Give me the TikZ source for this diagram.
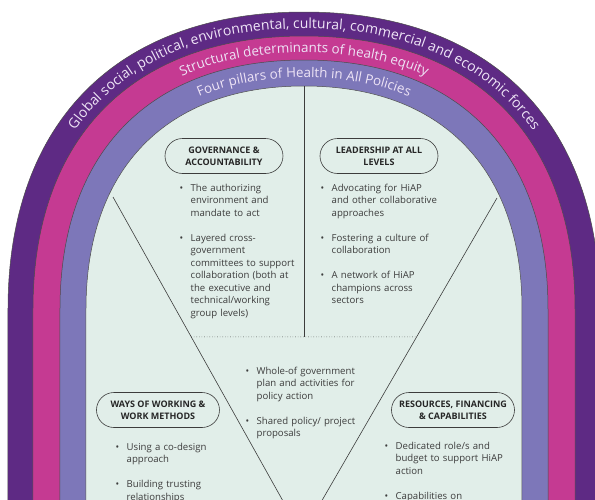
\documentclass[tikz,border=0pt]{standalone}
\usepackage{fontspec}
\setmainfont{Open Sans}
\usetikzlibrary{shapes.misc,decorations.text,calc}

\definecolor{forces}{RGB}{94,42,132}
\definecolor{structural}{RGB}{197,58,146}
\definecolor{pillars}{RGB}{125,119,185}
\definecolor{mint}{RGB}{225,238,233}
\definecolor{ink}{RGB}{60,60,60}
\definecolor{arcink}{RGB}{238,228,246}

\newcommand{\arcfont}{\fontsize{13.4}{16}\selectfont}
\newcommand{\outerfont}{\fontsize{14}{16}\selectfont}
\newcommand{\headfont}{\fontsize{9}{12}\selectfont\bfseries}
% bullet hangs in the left margin, all lines share the same indent
\newcommand{\itm}[1]{\leftskip=11pt\noindent\llap{\makebox[11pt][l]{\textbullet}}#1\par}
\newcommand{\gap}{\vspace{12.5pt}}

\tikzset{
  band/.style={draw=black!70, line width=0.5pt},
  toparc/.style 2 args={insert path={(-#1,0) .. controls (-#1,0.63*#2) and (-0.63*#1,#2) .. (0,#2) .. controls (0.63*#1,#2) and (#1,0.63*#2) .. (#1,0)}},
  arctext/.style={decorate, decoration={text along path, text align=center, text color=arcink, text={#1}}},
  pill/.style={rounded rectangle, draw=ink, line width=0.6pt, minimum width=122pt, minimum height=35pt, align=center, font=\headfont, text=black!85, inner sep=2pt},
  bullets/.style={anchor=base west, inner sep=0pt, text width=130pt, align=left, font=\fontsize{9.6}{12.5}\selectfont, text=ink},
  divider/.style={draw=ink, line width=0.6pt}
}

\begin{document}
\begin{tikzpicture}[x=1pt,y=1pt]
\useasboundingbox (-304,-190) rectangle (291,309);
\clip (-304,-190) rectangle (291,309);

% nested arches, outermost first
\foreach \a/\b/\c in {296/297/forces,271/273/structural,244/249/pillars,218/223/mint}
  \filldraw[fill=\c,band] (-\a,-200) -- (-\a,0) .. controls (-\a,0.63*\b) and (-0.63*\a,\b) .. (0,\b) .. controls (0.63*\a,\b) and (\a,0.63*\b) .. (\a,0) -- (\a,-200) -- cycle;

% titles running round the bands
\path[toparc={279}{280.5}, arctext={|\outerfont|Global social, political, environmental, cultural, commercial and economic forces}];
\path[toparc={253}{256.5}, arctext={|\arcfont|Structural determinants of health equity}];
\path[toparc={226.5}{231.5}, arctext={|\arcfont|Four pillars of Health in All Policies}];

% the split into four pillars
\coordinate (apex) at (0,223);
\coordinate (hub) at (0,-28);
\coordinate (ltop) at (-191,112);
\coordinate (rtop) at (193,111);
\coordinate (vtip) at (-2,-226);
\coordinate (dl) at ($(ltop)!0.414!(vtip)$);
\coordinate (dr) at ($(rtop)!0.412!(vtip)$);

\draw[divider] (apex) -- (hub);
\draw[divider] (ltop) -- (vtip) -- (rtop);
\draw[divider, dotted] (dl) -- (dr);

% headings
\node[pill] (gov) at (-80,153) {GOVERNANCE \&\\ACCOUNTABILITY};
\node[pill] (lead) at (75,153) {LEADERSHIP AT ALL\\LEVELS};
\node[pill, minimum width=127pt] (ways) at (-146,-101) {WAYS OF WORKING \&\\WORK METHODS};
\node[pill, minimum width=127pt] (res) at (149,-101) {RESOURCES, FINANCING\\\& CAPABILITIES};

% bullet points
\node[bullets] (govlist) at (-124.5,118) {%
  \itm{The authorizing\\environment and\\mandate to act}\gap
  \itm{Layered cross-\\government\\committees to support\\collaboration (both at\\the executive and\\technical/working\\group levels)}};
\node[bullets] (leadlist) at (16.5,118) {%
  \itm{Advocating for HiAP\\and other collaborative\\approaches}\gap
  \itm{Fostering a culture of\\collaboration}\gap
  \itm{A network of HiAP\\champions across\\sectors}};
\node[bullets] (midlist) at (-58.5,-65) {%
  \itm{Whole-of government\\plan and activities for\\policy action}\gap
  \itm{Shared policy/ project\\proposals}};
\node[bullets] (wayslist) at (-188.5,-141) {%
  \itm{Using a co-design\\approach}\gap
  \itm{Building trusting\\relationships}};
\node[bullets] (reslist) at (80.5,-140) {%
  \itm{Dedicated role/s and\\budget to support HiAP\\action}\gap
  \itm{Capabilities on}};

\end{tikzpicture}
\end{document}
